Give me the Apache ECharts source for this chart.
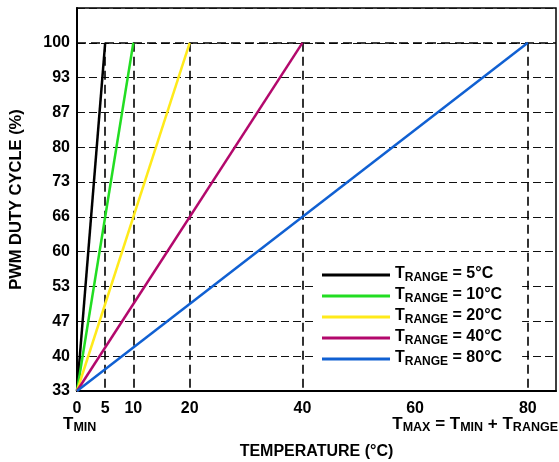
<!DOCTYPE html>
<html><head><meta charset="utf-8">
<script src="https://cdn.jsdelivr.net/npm/echarts@6/dist/echarts.min.js"></script>
<style>html,body{margin:0;padding:0;background:#fff}#c{width:559px;height:462px}</style>
</head><body><div id="c"></div>
<script>
// ---- data ----
const ranges = [5, 10, 20, 40, 80];           // T_RANGE values (°C)
const seriesNames = ['5', '10', '20', '40', '80'];
const startDuty = 100 / 3;                    // duty at T_MIN (33.3%)
const endDuty = 100;                          // duty at T_MAX
const colors = ['#000000', '#22dd22', '#ffea1a', '#b3086c', '#1060d2'];
const xTicks = [0, 5, 10, 20, 40, 60, 80];
const yTickLabels = ['33', '40', '47', '53', '60', '66', '73', '80', '87', '93', '100'];

const FONT = 'Liberation Sans, Arial, sans-serif';
const yMin = 100 / 3, yStep = 20 / 3, yMax = 320 / 3;

const series = ranges.map((r, i) => ({
  name: seriesNames[i],
  type: 'line',
  data: [[0, startDuty], [r, endDuty]],
  showSymbol: false,
  symbol: 'none',
  lineStyle: { color: colors[i], width: 2.5 },
  itemStyle: { color: colors[i] },
  z: 5,
  markLine: {
    silent: true, symbol: 'none', label: { show: false },
    lineStyle: { color: '#000', width: 1.6, type: [9, 5] },
    data: [[{ coord: [r, endDuty] }, { coord: [r, yMin] }]],
    z: 3
  }
}));
// horizontal line at 100
series.push({
  name: 'h100', type: 'line', data: [], markLine: {
    silent: true, symbol: 'none', label: { show: false },
    lineStyle: { color: '#000', width: 1.6, type: [9, 5] },
    data: [{ yAxis: endDuty }]
  }
});

const big = { fontSize: 17, fontWeight: 'bold', fill: '#000', fontFamily: FONT, lineHeight: 18, verticalAlign: 'top' };
const sub = { fontSize: 12.5, fontWeight: 'bold', fill: '#000', fontFamily: FONT, lineHeight: 18, verticalAlign: 'bottom' };

const chart = echarts.init(document.getElementById('c'), null, { renderer: 'canvas' });
chart.setOption({
  animation: false,
  textStyle: { fontFamily: FONT },
  grid: { left: 77, right: 3, top: 8, bottom: 71, containLabel: false, outerBoundsMode: 'none',
          show: true, borderColor: '#000', borderWidth: 1.5, backgroundColor: 'transparent' },
  xAxis: {
    type: 'value', min: 0, max: 85,
    axisLine: { show: true, onZero: false, lineStyle: { color: '#000', width: 2 } },
    axisTick: { show: false },
    splitLine: { show: false },
    axisLabel: { customValues: xTicks, color: '#000', fontWeight: 'bold', fontSize: 16, fontFamily: FONT, margin: 10 },
    name: 'TEMPERATURE (°C)', nameLocation: 'middle', nameGap: 53,
    nameTextStyle: { color: '#000', fontWeight: 'bold', fontSize: 16, fontFamily: FONT }
  },
  yAxis: {
    type: 'value', min: yMin, max: yMax, interval: yStep,
    axisLine: { show: true, onZero: false, lineStyle: { color: '#000', width: 2 } },
    axisTick: { show: false },
    splitLine: { show: true, lineStyle: { color: '#111', width: 1.2, type: [8, 4] } },
    axisLabel: {
      color: '#000', fontWeight: 'bold', fontSize: 16, fontFamily: FONT, margin: 7,
      formatter: v => { const k = Math.round((v - yMin) / yStep); return yTickLabels[k] || ''; }
    },
    name: 'PWM DUTY CYCLE (%)', nameLocation: 'middle', nameGap: 52, nameRotate: 90,
    nameTextStyle: { color: '#000', fontWeight: 'bold', fontSize: 16.5, fontFamily: FONT }
  },
  legend: {
    data: seriesNames, orient: 'vertical', left: 316, top: 264,
    backgroundColor: '#fff', padding: [2, 20, 6, 6], itemGap: 3,
    itemWidth: 68, itemHeight: 3, icon: 'rect',
    formatter: n => '{a|T}{b|RANGE}{a| = ' + n + '°C}',
    textStyle: {
      rich: {
        a: { fontSize: 16, fontWeight: 'bold', color: '#000', fontFamily: FONT, lineHeight: 18, verticalAlign: 'top' },
        b: { fontSize: 12, fontWeight: 'bold', color: '#000', fontFamily: FONT, lineHeight: 18, verticalAlign: 'bottom' }
      }
    }
  },
  graphic: [
    { type: 'text', left: 63, top: 416, style: { text: '{a|T}{b|MIN}', rich: { a: big, b: sub } } },
    { type: 'text', right: 1, top: 416, style: { text: '{a|T}{b|MAX}{a| = T}{b|MIN}{a| + T}{b|RANGE}', rich: { a: big, b: sub } } }
  ],
  series: series
});
</script></body></html>
